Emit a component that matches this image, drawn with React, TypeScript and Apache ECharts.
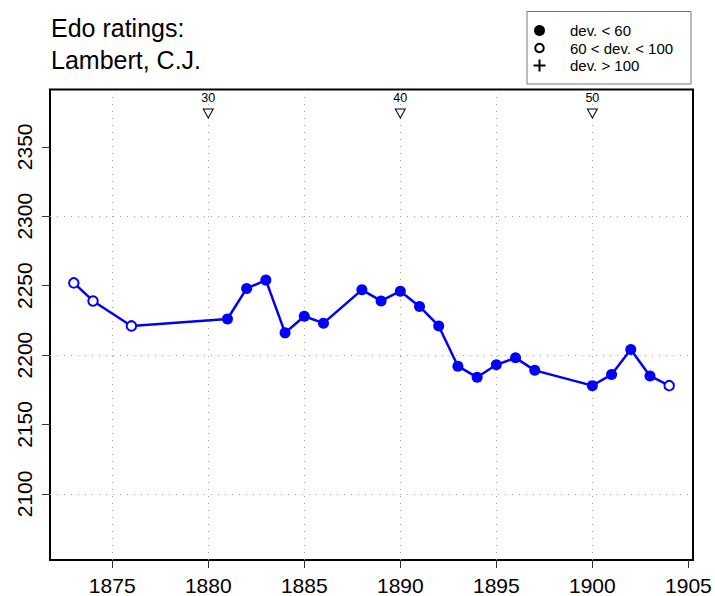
import React, { useEffect, useRef } from "react";
import * as echarts from "echarts";

const years = [1873, 1874, 1876, 1881, 1882, 1883, 1884, 1885, 1886, 1888, 1889, 1890, 1891, 1892, 1893, 1894, 1895, 1896, 1897, 1900, 1901, 1902, 1903, 1904];
const ratings = [2252, 2239, 2221, 2226, 2248, 2254, 2216, 2228, 2223, 2247, 2239, 2246, 2235, 2221, 2192, 2184, 2193, 2198, 2189, 2178, 2186, 2204, 2185, 2178];
// 0: dev < 60, 1: 60 < dev < 100, 2: dev > 100
const devClass = [1, 1, 1, 0, 0, 0, 0, 0, 0, 0, 0, 0, 0, 0, 0, 0, 0, 0, 0, 0, 0, 0, 0, 1];

const xTicks = [1875, 1880, 1885, 1890, 1895, 1900, 1905];
const yTicks = [2100, 2150, 2200, 2250, 2300, 2350];
const xGrid = [1875, 1880, 1885, 1890, 1895, 1900];
const yGrid = [2100, 2200, 2300];

const gameYears = [1880, 1890, 1900];
const gameLabels = ["30", "40", "50"];

const legendLabels = ["dev. < 60", "60 < dev. < 100", "dev. > 100"];
const titleLines = ["Edo ratings:", "Lambert, C.J."];

const FONT = "'Liberation Sans', Arial, Helvetica, sans-serif";
const BLUE = "#0000FF";

export default function App() {
  const ref = useRef<HTMLDivElement>(null);
  useEffect(() => {
    if (!ref.current) return;
    const chart = echarts.init(ref.current, undefined, { renderer: "svg" });

    const pointData = years.map((y, i) => {
      const c = devClass[i];
      if (c === 1) {
        return {
          value: [y, ratings[i]],
          symbol: "circle",
          symbolSize: 9.5,
          itemStyle: { color: "#ffffff", borderColor: BLUE, borderWidth: 2, opacity: 1 },
        };
      }
      return {
        value: [y, ratings[i]],
        symbol: "circle",
        symbolSize: 11,
        itemStyle: { color: BLUE, borderWidth: 0, opacity: 1 },
      };
    });

    const markLineData: any[] = [
      ...xGrid.map((v) => ({ xAxis: v })),
      ...yGrid.map((v) => ({ yAxis: v })),
    ];

    const option: any = {
      animation: false,
      backgroundColor: "#ffffff",
      textStyle: { fontFamily: FONT },
      grid: {
        left: 50,
        right: 22,
        top: 89.5,
        bottom: 36,
        show: true,
        borderColor: "#000000",
        borderWidth: 2,
        backgroundColor: "transparent",
      },
      xAxis: {
        type: "value",
        min: 1871.76,
        max: 1905.24,
        axisLine: { show: false },
        splitLine: { show: false },
        axisTick: {
          show: true,
          customValues: xTicks,
          length: 8,
          lineStyle: { color: "#333", width: 1 },
        },
        axisLabel: {
          customValues: xTicks,
          formatter: (v: number) => String(v),
          fontSize: 21,
          color: "#000",
          margin: 15,
          fontFamily: FONT,
          showMinLabel: true,
          showMaxLabel: true,
        },
      },
      yAxis: {
        type: "value",
        min: 2052.4,
        max: 2391.3,
        axisLine: { show: false },
        splitLine: { show: false },
        axisTick: {
          show: true,
          customValues: yTicks,
          length: 8,
          lineStyle: { color: "#333", width: 1 },
        },
        axisLabel: {
          customValues: yTicks,
          formatter: (v: number) => String(v),
          fontSize: 21,
          color: "#000",
          rotate: 90,
          margin: 15,
          fontFamily: FONT,
        },
      },
      series: [
        {
          type: "line",
          data: years.map((y, i) => [y, ratings[i]]),
          showSymbol: false,
          symbol: "none",
          lineStyle: { color: BLUE, width: 2.5 },
          z: 3,
          silent: true,
          markLine: {
            silent: true,
            symbol: ["none", "none"],
            label: { show: false },
            lineStyle: { color: "#a0a0a0", width: 1, type: [1, 6] },
            emphasis: { disabled: true },
            data: markLineData,
            z: 1,
          },
        },
        {
          type: "scatter",
          data: pointData,
          z: 4,
          silent: true,
          itemStyle: { opacity: 1 },
        },
        {
          type: "scatter",
          data: gameYears.map((y, i) => ({ value: [y, 2374], name: gameLabels[i] })),
          symbol: "path://M0,0 L10,0 L5,9 Z",
          symbolSize: [10, 9],
          itemStyle: { color: "#ffffff", borderColor: "#000", borderWidth: 1, opacity: 1 },
          label: {
            show: true,
            position: "top",
            distance: 4,
            formatter: (p: any) => p.name,
            fontSize: 12.5,
            color: "#000",
            fontFamily: FONT,
          },
          silent: true,
          z: 5,
        },
      ],
      graphic: [
        {
          type: "text",
          left: 51,
          top: 15,
          style: { text: titleLines[0], font: `25px ${FONT}`, fill: "#000" },
        },
        {
          type: "text",
          left: 51,
          top: 47,
          style: { text: titleLines[1], font: `25px ${FONT}`, fill: "#000" },
        },
        {
          type: "rect",
          shape: { x: 527, y: 11.5, width: 164, height: 72.5 },
          style: { fill: "#fff", stroke: "#777", lineWidth: 1 },
        },
        {
          type: "circle",
          shape: { cx: 539.5, cy: 30.5, r: 5.5 },
          style: { fill: "#000", stroke: "none" },
        },
        {
          type: "circle",
          shape: { cx: 539.5, cy: 48, r: 4.3 },
          style: { fill: "#fff", stroke: "#000", lineWidth: 2 },
        },
        {
          type: "line",
          shape: { x1: 533.5, y1: 65.5, x2: 545.5, y2: 65.5 },
          style: { stroke: "#000", lineWidth: 2 },
        },
        {
          type: "line",
          shape: { x1: 539.5, y1: 59.5, x2: 539.5, y2: 71.5 },
          style: { stroke: "#000", lineWidth: 2 },
        },
        ...legendLabels.map((t, i) => ({
          type: "text",
          x: 570,
          y: 30.5 + i * 17.5,
          style: {
            text: t,
            font: `15px ${FONT}`,
            fill: "#000",
            verticalAlign: "middle",
            align: "left",
          },
        })),
      ],
    };

    chart.setOption(option);
    return () => chart.dispose();
  }, []);

  return (
    <div
      ref={ref}
      style={{ position: "fixed", left: 0, top: 0, width: 715, height: 596 }}
    />
  );
}
